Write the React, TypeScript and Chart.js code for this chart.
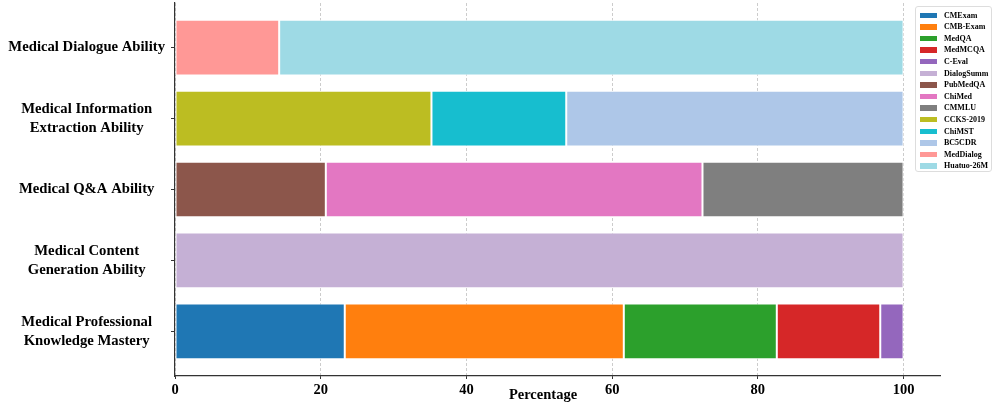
import React, { useEffect, useRef } from "react";
import { Chart, registerables } from "chart.js";

Chart.register(...registerables);

// Categories (index 0 = bottom row)
const categories: string[][] = [
  ["Medical Professional", "Knowledge Mastery"],
  ["Medical Content", "Generation Ability"],
  ["Medical Q&A Ability"],
  ["Medical Information", "Extraction Ability"],
  ["Medical Dialogue Ability"],
];

const datasetNames = [
  "CMExam", "CMB-Exam", "MedQA", "MedMCQA", "C-Eval",
  "DialogSumm",
  "PubMedQA", "ChiMed", "CMMLU",
  "CCKS-2019", "ChiMST", "BC5CDR",
  "MedDialog", "Huatuo-26M",
];

const datasetValues = [
  23.3, 38.3, 21.0, 14.2, 3.2,
  100,
  20.7, 51.7, 27.6,
  35.2, 18.5, 46.3,
  14.3, 85.7,
];

const datasetCategory = [0, 0, 0, 0, 0, 1, 2, 2, 2, 3, 3, 3, 4, 4];

const datasetColors = [
  "#1f77b4", "#ff7f0e", "#2ca02c", "#d62728", "#9467bd",
  "#c5b0d5",
  "#8c564b", "#e377c2", "#7f7f7f",
  "#bcbd22", "#17becf", "#aec7e8",
  "#ff9896", "#9edae5",
];

const xTicks = [0, 20, 40, 60, 80, 100];
const yTicks = [0, 1, 2, 3, 4];

const SERIF = "'Liberation Serif', 'Times New Roman', Times, serif";

export default function App() {
  const canvasRef = useRef<HTMLCanvasElement | null>(null);

  useEffect(() => {
    document.body.style.margin = "0";
    const canvas = canvasRef.current;
    if (!canvas) return;
    const chart = new Chart(canvas, {
      type: "bar",
      data: {
        datasets: datasetNames.map((name, i) => ({
          label: name,
          data: [{ x: datasetValues[i], y: datasetCategory[i] }],
          backgroundColor: datasetColors[i],
          borderColor: "#ffffff",
          borderWidth: 1,
          borderSkipped: false,
          barPercentage: 0.785,
          categoryPercentage: 1,
        })),
      },
      options: {
        indexAxis: "y",
        responsive: false,
        maintainAspectRatio: false,
        animation: false,
        layout: { padding: { top: 3, right: 56, left: 0, bottom: 0 } },
        plugins: {
          legend: { display: false },
          tooltip: { enabled: false },
        },
        scales: {
          x: {
            type: "linear",
            stacked: true,
            min: 0,
            max: 105,
            afterBuildTicks: (scale: any) => {
              scale.ticks = xTicks.map((v) => ({ value: v }));
            },
            afterFit: (scale: any) => {
              scale.height = 30;
              scale.paddingLeft = 0;
              scale.paddingRight = 0;
            },
            grid: {
              display: true,
              offset: false,
              drawOnChartArea: true,
              drawTicks: true,
              tickLength: 3,
              tickColor: "#333333",
              tickWidth: 1,
              tickBorderDash: [],
              color: "rgba(0,0,0,0.2)",
              lineWidth: 1,
            },
            border: { display: true, color: "#333333", width: 1.2, dash: [3, 2] },
            ticks: {
              color: "#000000",
              padding: 3,
              font: { family: SERIF, size: 14.5, weight: "bold" },
              callback: (v: any) => String(v),
            },
            title: { display: false },
          },
          y: {
            type: "linear",
            stacked: true,
            offset: false,
            min: -0.63,
            max: 4.63,
            afterBuildTicks: (scale: any) => {
              scale.ticks = yTicks.map((v) => ({ value: v }));
            },
            afterFit: (scale: any) => {
              scale.width = 175;
              scale.paddingTop = 0;
              scale.paddingBottom = 0;
            },
            grid: {
              display: true,
              offset: false,
              drawOnChartArea: false,
              drawTicks: true,
              tickLength: 4,
              tickColor: "#333333",
              tickWidth: 1,
            },
            border: { display: true, color: "#333333", width: 1.2 },
            ticks: {
              color: "#000000",
              padding: 6,
              crossAlign: "center",
              font: { family: SERIF, size: 14.7, weight: "bold", lineHeight: 1.3 },
              callback: (v: any) => categories[Math.round(Number(v))] as any,
            },
          },
        },
      } as any,
    });
    return () => chart.destroy();
  }, []);

  return (
    <div style={{ position: "relative", width: 996, height: 406, background: "#fff" }}>
      <canvas ref={canvasRef} width={996} height={406} style={{ display: "block" }} />
      <div
        style={{
          position: "absolute",
          left: 493,
          width: 100,
          top: 385,
          textAlign: "center",
          fontFamily: SERIF,
          fontWeight: "bold",
          fontSize: 14.5,
          lineHeight: "18px",
          color: "#000",
        }}
      >
        Percentage
      </div>
      <div
        style={{
          position: "absolute",
          left: 915,
          top: 6,
          width: 77,
          height: 166,
          border: "1px solid #dddddd",
          borderRadius: 3,
          background: "rgba(255,255,255,0.9)",
          boxSizing: "border-box",
        }}
      >
        {datasetNames.map((name, i) => (
          <div
            key={name}
            style={{
              position: "absolute",
              left: 4,
              top: 2.5 + i * 11.6,
              height: 11.6,
              display: "flex",
              alignItems: "center",
              whiteSpace: "nowrap",
            }}
          >
            <span
              style={{
                display: "inline-block",
                width: 17,
                height: 5.5,
                background: datasetColors[i],
                marginRight: 7,
              }}
            />
            <span
              style={{
                fontFamily: SERIF,
                fontWeight: "bold",
                fontSize: 8,
                lineHeight: "11.6px",
                color: "#000",
              }}
            >
              {name}
            </span>
          </div>
        ))}
      </div>
    </div>
  );
}
